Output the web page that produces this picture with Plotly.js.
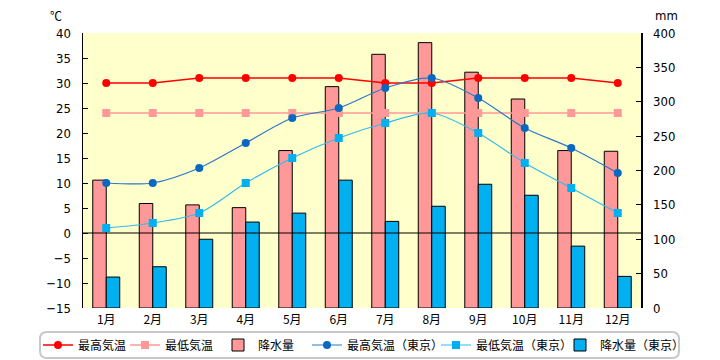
<!DOCTYPE html>
<html>
<head>
<meta charset="utf-8">
<script src="https://cdn.plot.ly/plotly-3.0.1.min.js"></script>
<style>
html,body{margin:0;padding:0;background:#fff;}
#chart{width:720px;height:360px;}
</style>
</head>
<body>
<div id="chart"></div>
<script>
const months = ['1月','2月','3月','4月','5月','6月','7月','8月','9月','10月','11月','12月'];
const maxTemp = [30,30,31,31,31,31,30,30,31,31,31,30];
const minTemp = [24,24,24,24,24,24,24,24,24,24,24,24];
const precip = [186,152,150,146,229,322,369,386,343,304,229,228];
const tokyoMax = [10,10,13,18,23,25,29,31,27,21,17,12];
const tokyoMin = [1,2,4,10,15,19,22,24,20,14,9,4];
const tokyoPrecip = [45,60,100,125,138,186,126,148,180,164,90,46];
const tempTicks = [-15,-10,-5,0,5,10,15,20,25,30,35,40];
const precipTicks = [0,50,100,150,200,250,300,350,400];

const jp = '"Noto Sans CJK JP", sans-serif';
const num = '"Liberation Sans Narrow", "DejaVu Sans Condensed", "Liberation Sans", sans-serif';

const traces = [
  {name:'最高気温', x:months, y:maxTemp, type:'scatter', mode:'lines+markers', yaxis:'y2', legend:'legend',
   line:{color:'#FF0000', width:1.5}, marker:{color:'#FF0000', size:8, symbol:'circle'}},
  {name:'最低気温', x:months, y:minTemp, type:'scatter', mode:'lines+markers', yaxis:'y2', legend:'legend2',
   line:{color:'#FF9999', width:1.5}, marker:{color:'#FF9999', size:8, symbol:'square'}},
  {name:'降水量', x:months, y:precip, type:'bar', yaxis:'y', legend:'legend3',
   marker:{color:'#FF9999', line:{color:'#000000', width:1}}},
  {name:'最高気温（東京）', x:months, y:tokyoMax, type:'scatter', mode:'lines+markers', yaxis:'y2', legend:'legend4',
   line:{color:'#2A78C8', width:1.2, shape:'spline', smoothing:0.8}, marker:{color:'#0A68C0', size:8, symbol:'circle'}},
  {name:'最低気温（東京）', x:months, y:tokyoMin, type:'scatter', mode:'lines+markers', yaxis:'y2', legend:'legend5',
   line:{color:'#33BBEE', width:1.2, shape:'spline', smoothing:0.8}, marker:{color:'#00B0F0', size:8, symbol:'square'}},
  {name:'降水量（東京）', x:months, y:tokyoPrecip, type:'bar', yaxis:'y', legend:'legend6',
   marker:{color:'#00B0F0', line:{color:'#000000', width:1}}}
];

// plot area in px: left 83, right 641, top 33, bottom 308
const PL = 83, PW = 558, PT = 33, PH = 275;
const px2x = p => (p - PL) / PW;
const px2y = p => (PT + PH - p) / PH;

function leg(textStartPx) {
  return {orientation:'h', x:px2x(textStartPx - 40), xanchor:'left', y:px2y(345), yanchor:'middle',
          borderwidth:0, bgcolor:'rgba(0,0,0,0)', font:{family:jp, size:12, color:'#000'}, itemwidth:30};
}

// rounded legend frame
const fx0 = px2x(40), fx1 = px2x(679), fy0 = px2y(358), fy1 = px2y(332);
const rx = 7 / PW, ry = 7 / PH;
const framePath = `M ${fx0+rx},${fy1} L ${fx1-rx},${fy1} Q ${fx1},${fy1} ${fx1},${fy1-ry} L ${fx1},${fy0+ry} Q ${fx1},${fy0} ${fx1-rx},${fy0} L ${fx0+rx},${fy0} Q ${fx0},${fy0} ${fx0},${fy0+ry} L ${fx0},${fy1-ry} Q ${fx0},${fy1} ${fx0+rx},${fy1} Z`;

const layout = {
  width:720, height:360,
  margin:{l:PL, r:720-PL-PW, t:PT, b:360-PT-PH, autoexpand:false},
  paper_bgcolor:'#FFFFFF',
  plot_bgcolor:'#FFFFCC',
  showlegend:true,
  barmode:'group',
  bargap:0.42,
  bargroupgap:0,
  font:{family:jp, size:12, color:'#000'},
  xaxis:{type:'category', range:[-0.5, months.length - 0.5], autorange:false, showline:false, showgrid:false, zeroline:false, ticks:'',
         tickfont:{family:jp, size:12, color:'#000'}, ticklabelstandoff:3, fixedrange:true},
  yaxis:{side:'right', range:[0,400], tickvals:precipTicks, showgrid:false, zeroline:false,
         showline:true, linecolor:'#000', linewidth:1.5, ticks:'inside', ticklen:5, tickcolor:'#000',
         tickfont:{family:num, size:13, color:'#000'}, ticklabelstandoff:8},
  yaxis2:{side:'left', overlaying:'y', range:[-15,40], tickvals:tempTicks, showgrid:false, zeroline:false,
          showline:true, linecolor:'#000', linewidth:1.5, ticks:'inside', ticklen:5, tickcolor:'#000',
          tickfont:{family:num, size:13, color:'#000'}, ticklabelstandoff:8},
  shapes:[
    {type:'line', xref:'paper', x0:0, x1:1, yref:'y2', y0:0, y1:0, layer:'above', line:{color:'#000', width:1}},
    {type:'path', xref:'paper', yref:'paper', path:framePath, layer:'below', fillcolor:'rgba(0,0,0,0)',
     line:{color:'#C8C8C8', width:2}}
  ],
  legend: leg(78),
  legend2: leg(165),
  legend3: leg(258),
  legend4: leg(347),
  legend5: leg(476),
  legend6: leg(600),
  annotations:[
    {text:'℃', xref:'paper', yref:'paper', x:px2x(56), y:px2y(15), xanchor:'center', yanchor:'middle', showarrow:false,
     font:{family:jp, size:12, color:'#000'}},
    {text:'mm', xref:'paper', yref:'paper', x:px2x(666), y:px2y(15), xanchor:'center', yanchor:'middle', showarrow:false,
     font:{family:num, size:13, color:'#000'}}
  ]
};

Plotly.newPlot('chart', traces, layout, {displayModeBar:false, staticPlot:true});
</script>
</body>
</html>
